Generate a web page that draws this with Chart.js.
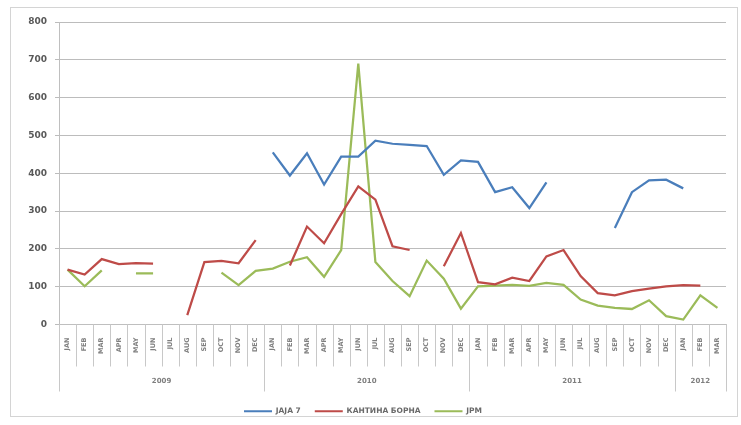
<!DOCTYPE html>
<html>
<head>
<meta charset="utf-8">
<script src="https://cdn.jsdelivr.net/npm/chart.js@4.4.1/dist/chart.umd.min.js"></script>
<style>
  html, body { margin: 0; padding: 0; background: #ffffff; }
  #c { display: block; }
</style>
</head>
<body>
<canvas id="c" width="741" height="425"></canvas>
<script>
const months = ["JAN","FEB","MAR","APR","MAY","JUN","JUL","AUG","SEP","OCT","NOV","DEC",
                "JAN","FEB","MAR","APR","MAY","JUN","JUL","AUG","SEP","OCT","NOV","DEC",
                "JAN","FEB","MAR","APR","MAY","JUN","JUL","AUG","SEP","OCT","NOV","DEC",
                "JAN","FEB","MAR"];
const years = ["2009", "2010", "2011", "2012"];
const yearSpans = [12, 12, 12, 3];
const seriesNames = ["ЈАЈА 7", "КАНТИНА БОРНА", "ЈРМ"];

const jaja7 = [null,null,null,null,null,null,null,null,null,null,null,null,
               455,394,453,370,444,444,486,478,475,472,396,434,
               430,350,363,308,376,null,null,null,255,350,381,383,
               360,null,null];
const kantina = [145,132,173,160,162,161,null,25,165,168,162,223,
                 null,156,259,215,292,365,330,207,197,null,154,242,
                 112,106,124,115,180,197,128,83,77,88,95,101,
                 104,103,null];
const jrm = [145,101,143,null,135,135,null,null,null,137,104,142,
             148,166,178,126,197,690,165,115,75,169,121,42,
             101,103,105,102,110,105,66,50,44,41,64,22,
             13,77,44];
const yTicks = [0,100,200,300,400,500,600,700,800];

const colors = ["#4a7ebb", "#be4b48", "#9bbb59"];
const FONT = "'DejaVu Sans', Arial, sans-serif";

const framePlugin = {
  id: 'frame',
  beforeDraw(chart) {
    const ctx = chart.ctx;
    ctx.save();
    ctx.fillStyle = '#ffffff';
    ctx.fillRect(0, 0, chart.width, chart.height);
    ctx.strokeStyle = '#d4d4d4';
    ctx.lineWidth = 1;
    ctx.strokeRect(10.5, 7.5, 727, 409);
    ctx.restore();
  }
};

const categoryPlugin = {
  id: 'categoryAxis',
  afterDraw(chart) {
    const ctx = chart.ctx;
    const xs = chart.scales.x;
    const area = chart.chartArea;
    const n = months.length;
    const step = (xs.getPixelForValue(1) - xs.getPixelForValue(0));
    const y0 = area.bottom;
    ctx.save();
    ctx.strokeStyle = '#c8c8c8';
    ctx.lineWidth = 1;
    for (let i = 0; i <= n; i++) {
      const x = Math.round(xs.getPixelForValue(0) - step / 2 + i * step) + 0.5;
      ctx.beginPath();
      ctx.moveTo(x, y0);
      ctx.lineTo(x, y0 + 42);
      ctx.stroke();
    }
    let start = 0;
    ctx.fillStyle = '#7f7f7f';
    ctx.font = "bold 7px " + FONT;
    ctx.textAlign = 'center';
    ctx.textBaseline = 'middle';
    for (let k = 0; k <= years.length; k++) {
      const x = Math.round(xs.getPixelForValue(0) - step / 2 + start * step) + 0.5;
      ctx.beginPath();
      ctx.moveTo(x, y0);
      ctx.lineTo(x, y0 + 67);
      ctx.stroke();
      if (k < years.length) {
        const cx = (xs.getPixelForValue(start) + xs.getPixelForValue(start + yearSpans[k] - 1)) / 2;
        ctx.fillText(years[k], cx, y0 + 57);
        start += yearSpans[k];
      }
    }
    ctx.restore();
  }
};

new Chart(document.getElementById('c'), {
  type: 'line',
  data: {
    labels: months,
    datasets: [
      { label: seriesNames[0], data: jaja7, borderColor: colors[0], backgroundColor: colors[0] },
      { label: seriesNames[1], data: kantina, borderColor: colors[1], backgroundColor: colors[1] },
      { label: seriesNames[2], data: jrm, borderColor: colors[2], backgroundColor: colors[2] }
    ]
  },
  options: {
    responsive: false,
    animation: false,
    spanGaps: false,
    layout: { padding: { left: 0, right: 15, top: 22, bottom: 0 } },
    elements: {
      line: { borderWidth: 2.25, tension: 0 },
      point: { radius: 0, hoverRadius: 0 }
    },
    plugins: {
      tooltip: { enabled: false },
      legend: {
        position: 'bottom',
        labels: {
          boxWidth: 28,
          boxHeight: 2,
          padding: 14,
          color: '#6a6a6a',
          font: { size: 7.5, family: FONT, weight: 'bold' },
          generateLabels(chart) {
            return chart.data.datasets.map((d, i) => ({
              text: d.label,
              fillStyle: d.borderColor,
              strokeStyle: d.borderColor,
              lineWidth: 0,
              hidden: false,
              datasetIndex: i,
              fontColor: '#6a6a6a'
            }));
          }
        }
      }
    },
    scales: {
      x: {
        offset: true,
        grid: { display: true, drawOnChartArea: false, drawTicks: false, color: '#c8c8c8' },
        border: { display: true, color: '#bfbfbf' },
        ticks: {
          autoSkip: false,
          minRotation: 90,
          maxRotation: 90,
          padding: 13,
          color: '#7f7f7f',
          font: { size: 6.5, family: FONT, weight: 'bold' }
        },
        afterFit(scale) { scale.height = 69; }
      },
      y: {
        min: 0,
        max: 800,
        afterBuildTicks(scale) { scale.ticks = yTicks.map(v => ({ value: v })); },
        grid: { color: '#bcbcbc', tickLength: 4 },
        border: { display: true, color: '#bfbfbf' },
        ticks: {
          padding: 8,
          color: '#595959',
          font: { size: 9, family: FONT, weight: 'bold' }
        },
        afterFit(scale) { scale.width = 59; }
      }
    }
  },
  plugins: [framePlugin, categoryPlugin]
});
</script>
</body>
</html>
